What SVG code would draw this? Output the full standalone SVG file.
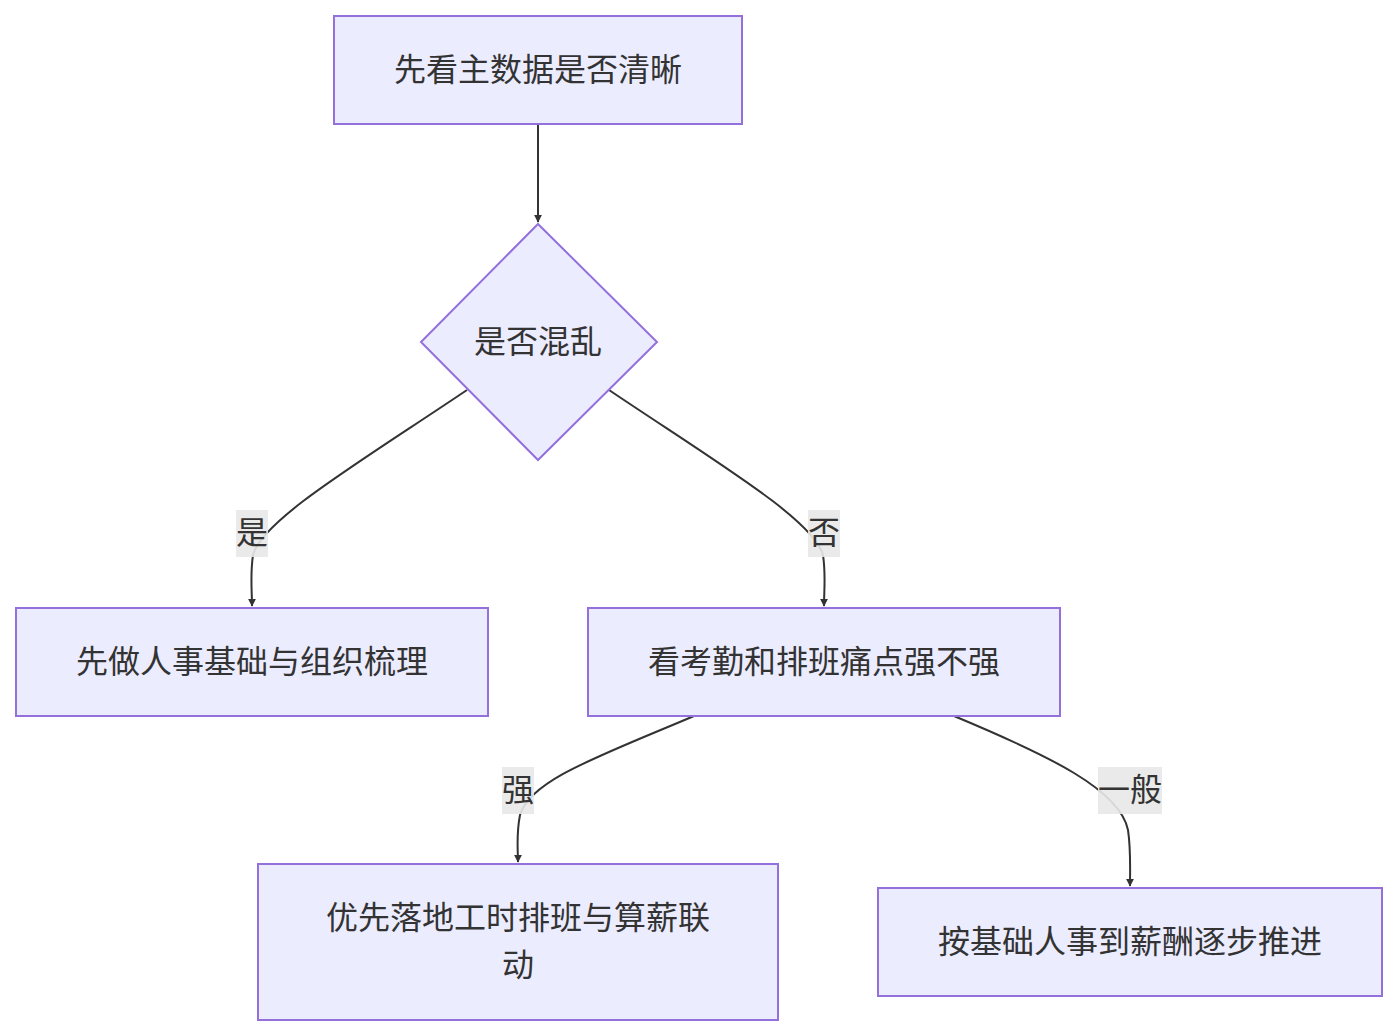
<svg xmlns="http://www.w3.org/2000/svg" width="1398" height="1036" viewBox="0 0 1398 1036">
<style>
.n{fill:#ECECFF;stroke:#9370DB;stroke-width:2}
.t{font-family:"Liberation Sans","Noto Sans CJK SC",sans-serif;font-size:32px;fill:#333;text-anchor:middle;dominant-baseline:central}
.e{fill:none;stroke:#333;stroke-width:2;marker-end:url(#a)}
.lb{fill:#E8E8E8;opacity:0.9}
</style>
<defs><marker id="a" viewBox="0 0 10 10" refX="9" refY="5" markerWidth="8" markerHeight="8" orient="auto" markerUnits="userSpaceOnUse"><path d="M0,0L10,5L0,10z" fill="#333"/></marker></defs>
<rect width="1398" height="1036" fill="#fff"/>
<g id="edges">
<path class="e" d="M538,124L538,222"/>
<path class="e" d="M467,390C360,462 262,520 253,555C250,575 252,590 252,606"/>
<path class="e" d="M609,390C716,462 814,520 823,555C826,575 824,590 824,606"/>
<path class="e" d="M694,716C600,756 530,780 520,815C516,835 518,850 518,862"/>
<path class="e" d="M954,716C1050,756 1120,790 1128,830C1131,850 1130,870 1130,886"/>
<rect class="lb" x="236" y="510" width="32" height="47"/><text class="t" x="252" y="533">是</text>
<rect class="lb" x="808" y="510" width="32" height="47"/><text class="t" x="824" y="533">否</text>
<rect class="lb" x="502" y="767" width="32" height="47"/><text class="t" x="518" y="790">强</text>
<rect class="lb" x="1098" y="767" width="64" height="47"/><text class="t" x="1130" y="790">一般</text>
</g>
<g id="A"><rect class="n" x="334" y="16" width="408" height="108"/><text class="t" x="538" y="70">先看主数据是否清晰</text></g>
<g id="B"><path class="n" d="M538,224L657,342L538,460L421,342Z"/><text class="t" x="538" y="342">是否混乱</text></g>
<g id="C"><rect class="n" x="16" y="608" width="472" height="108"/><text class="t" x="252" y="662">先做人事基础与组织梳理</text></g>
<g id="D"><rect class="n" x="588" y="608" width="472" height="108"/><text class="t" x="824" y="662">看考勤和排班痛点强不强</text></g>
<g id="E"><rect class="n" x="258" y="864" width="520" height="156"/><text class="t" x="518" y="918">优先落地工时排班与算薪联</text><text class="t" x="518" y="965">动</text></g>
<g id="F"><rect class="n" x="878" y="888" width="504" height="108"/><text class="t" x="1130" y="942">按基础人事到薪酬逐步推进</text></g>
</svg>
